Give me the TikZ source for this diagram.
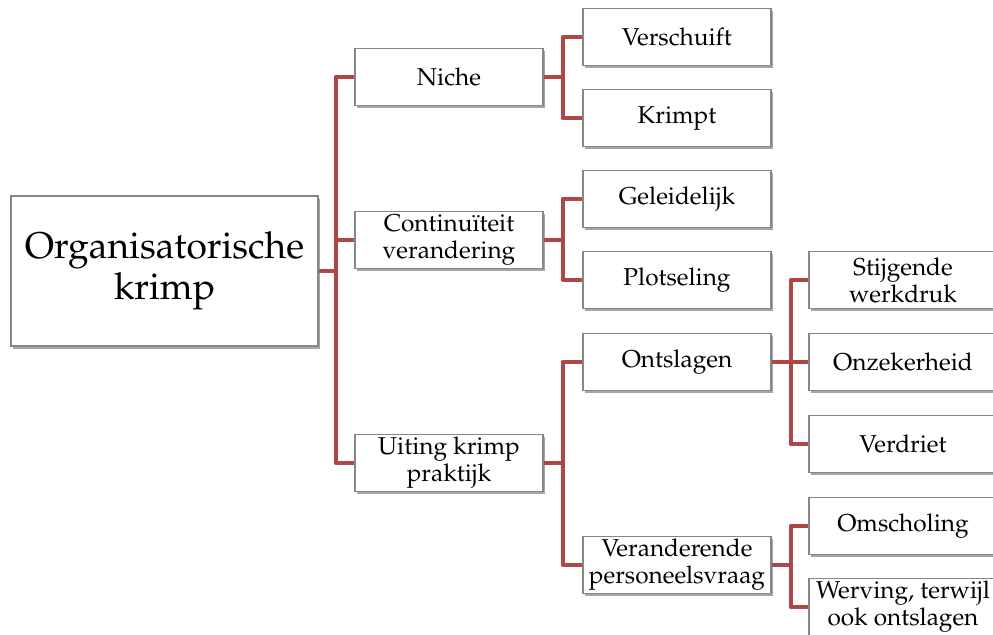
\documentclass[tikz,border=0pt]{standalone}
\usepackage[T1]{fontenc}
\usepackage{mathpazo}
\usetikzlibrary{shadows}
\definecolor{branchred}{RGB}{176,70,70}
\definecolor{boxgray}{RGB}{135,135,135}
\tikzset{
  box/.style={draw=boxgray,fill=white,line width=0.6pt,align=center,inner sep=1pt,
    minimum width=94pt,minimum height=28.5pt,font=\fontsize{12.2}{13.5}\selectfont,
    drop shadow={shadow xshift=1pt,shadow yshift=-1.5pt,fill=black,opacity=0.35}},
  rootbox/.style={box,minimum width=153.5pt,minimum height=75pt,font=\fontsize{18.6}{20.5}\selectfont},
  branch/.style={draw=branchred,line width=2pt,line join=round}
}
\begin{document}
\begin{tikzpicture}[x=0.5pt,y=-0.5pt]
    \useasboundingbox (0,0) rectangle (993,635);
    % root
    \node[rootbox] (root) at (164.5,271) {Organisatorische\\krimp};
    % first level
    \node[box] (niche) at (449,77) {Niche};
    \node[box] (cont) at (449,240) {Continu\"iteit\\verandering};
    \node[box] (uiting) at (449,463) {Uiting krimp\\praktijk};
    % second level
    \node[box] (verschuift) at (677,37) {Verschuift};
    \node[box] (krimpt) at (677,118) {Krimpt};
    \node[box] (geleid) at (677,199) {Geleidelijk};
    \node[box] (plots) at (677,280) {Plotseling};
    \node[box] (ontsl) at (677,362) {Ontslagen};
    \node[box] (verand) at (677,565) {Veranderende\\personeelsvraag};
    % third level
    \node[box] (stijg) at (903,280) {Stijgende\\werkdruk};
    \node[box] (onzek) at (903,362) {Onzekerheid};
    \node[box] (verdr) at (903,444) {Verdriet};
    \node[box] (omsch) at (903,526) {Omscholing};
    \node[box] (werv) at (903,607) {Werving, terwijl\\ook ontslagen};
    % connectors
    \foreach \c in {niche,cont,uiting}
      \draw[branch] (root.east) -- ++(17,0) |- (\c.west);
    \foreach \p/\c in {niche/verschuift,niche/krimpt,cont/geleid,cont/plots,uiting/ontsl,uiting/verand,
        ontsl/stijg,ontsl/onzek,ontsl/verdr,verand/omsch,verand/werv}
      \draw[branch] (\p.east) -- ++(19,0) |- (\c.west);
\end{tikzpicture}
\end{document}
